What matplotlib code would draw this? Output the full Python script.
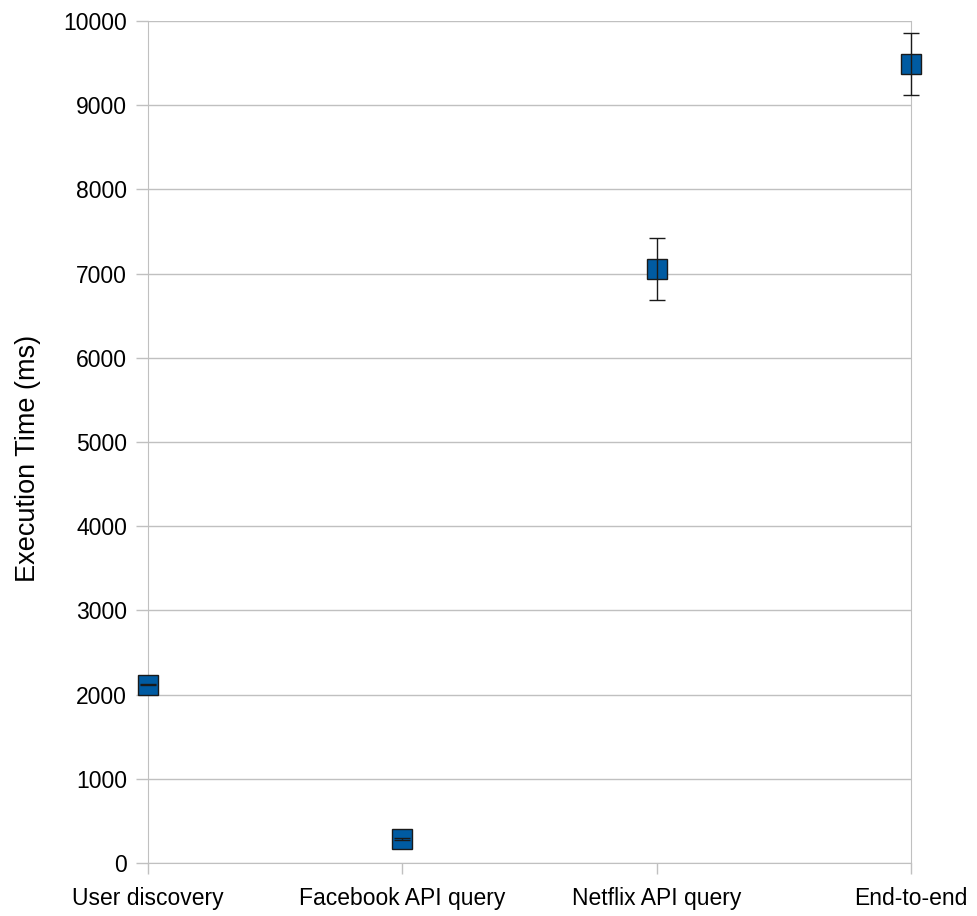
import numpy as np
import matplotlib.pyplot as plt

plt.rcParams['font.family'] = ['Liberation Sans', 'DejaVu Sans']

etapas = ['User discovery', 'Facebook API query', 'Netflix API query', 'End-to-end']
tiempo = [2115, 280, 7055, 9495]
error = [5, 12, 370, 368]

gris = '#c0c0c0'

fig = plt.figure(figsize=(9.77, 9.16), dpi=100)
ax = fig.add_axes([148/977, 53/916, (911-148)/977, (863-21)/916])

x = np.arange(len(etapas))
ax.plot(x, tiempo, 's', markersize=15, markerfacecolor='#005ba2',
        markeredgecolor='#1a1a1a', markeredgewidth=1, zorder=3, clip_on=False)
ax.errorbar(x, tiempo, yerr=error, fmt='none', ecolor='#1a1a1a', elinewidth=1,
            capsize=6, capthick=1, zorder=4, clip_on=False)

ax.set_xlim(0, 3)
ax.set_ylim(0, 10000)
ax.set_yticks(np.arange(0, 10001, 1000))
ax.set_xticks(x)
ax.set_xticklabels(etapas)
ax.grid(axis='y', color=gris, linewidth=1)
ax.set_axisbelow(True)
for s in ax.spines.values():
    s.set_color(gris)
ax.spines['top'].set_visible(False)
ax.tick_params(axis='both', colors=gris, labelcolor='black', labelsize=16.5,
               width=1)
ax.tick_params(axis='y', length=9, pad=6)
ax.tick_params(axis='x', length=8, pad=9)

# etiqueta del eje y un poco mas grande y desplazada hacia abajo
fig.text(28/977, 1 - 458/916, 'Execution Time (ms)', fontsize=19.5,
         rotation=90, ha='center', va='center')

fig.savefig('out.png', dpi=100)
